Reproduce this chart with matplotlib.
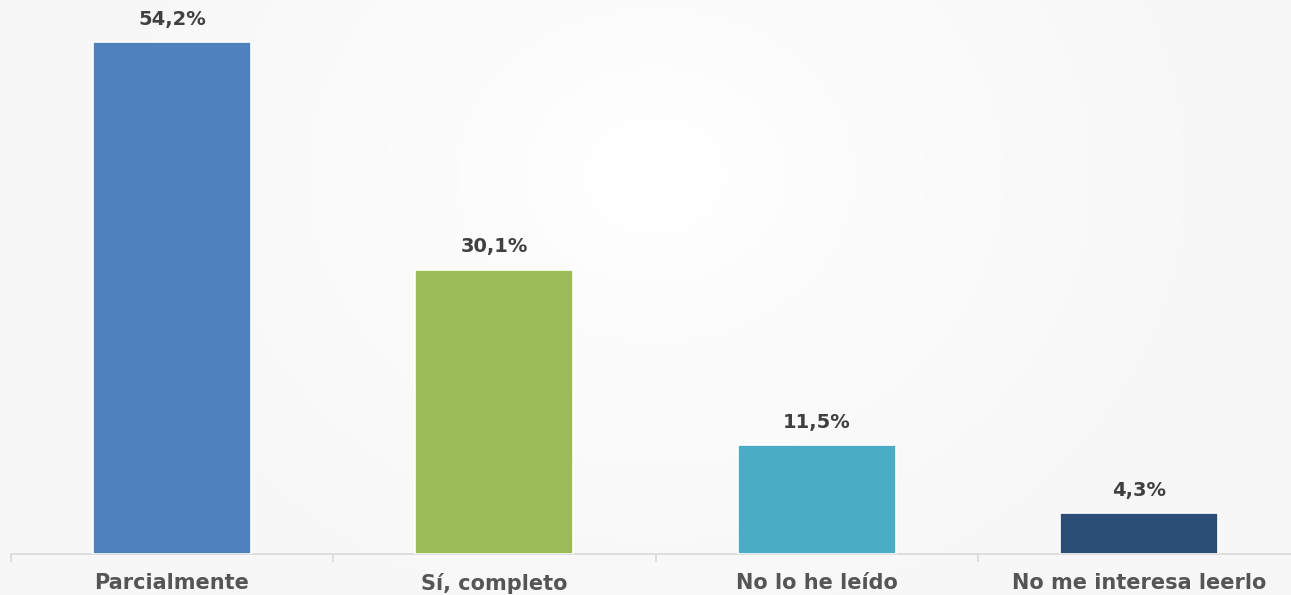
import numpy as np
import matplotlib.pyplot as plt

categories = ['Parcialmente', 'Sí, completo', 'No lo he leído', 'No me interesa leerlo']
values = [54.2, 30.1, 11.5, 4.3]
labels = ['54,2%', '30,1%', '11,5%', '4,3%']
colors = ['#4F81BD', '#9BBB59', '#4BACC6', '#2C4D75']

plt.rcParams['font.family'] = ['DejaVu Sans']

W, H = 1291, 595
fig = plt.figure(figsize=(W / 100, H / 100), dpi=100)

# radial gradient background
bg = fig.add_axes([0, 0, 1, 1])
yy, xx = np.mgrid[0:H, 0:W]
r = np.sqrt(((xx - 655) / 620.0) ** 2 + ((yy - 175) / 520.0) ** 2)
shade = 1.0 - 0.035 * np.clip(r, 0, 1) ** 0.7
bg.imshow(shade, cmap='gray', vmin=0, vmax=1, aspect='auto', extent=[0, W, H, 0])
bg.axis('off')

# plot area
left = 10.7 / W
bottom = (H - 554) / H
ax = fig.add_axes([left, bottom, 1290.0 / W, 554.0 / H])
ax.patch.set_alpha(0)

x = np.arange(len(categories))
ax.bar(x, values, width=0.49, color=colors, edgecolor='white', linewidth=1.2, zorder=3)
for xi, v, lab in zip(x, values, labels):
    ax.text(xi, v + 1.4, lab, ha='center', va='bottom', fontsize=14,
            fontweight='bold', color='#404040')

ax.set_xlim(-0.5, len(categories) - 0.5)
ax.set_ylim(0, 58.65)
ax.set_yticks([])
ax.set_xticks(x)
ax.set_xticklabels(categories, fontsize=15, fontweight='bold', color='#555555')
ax.tick_params(axis='x', length=0, pad=14)
ax.set_xticks(np.arange(len(categories) + 1) - 0.5, minor=True)
ax.tick_params(axis='x', which='minor', length=6, color='#D9D9D9', width=1.2)

for s in ['top', 'right', 'left']:
    ax.spines[s].set_visible(False)
ax.spines['bottom'].set_color('#D9D9D9')
ax.spines['bottom'].set_linewidth(1.2)

fig.savefig('out.png', dpi=100)
